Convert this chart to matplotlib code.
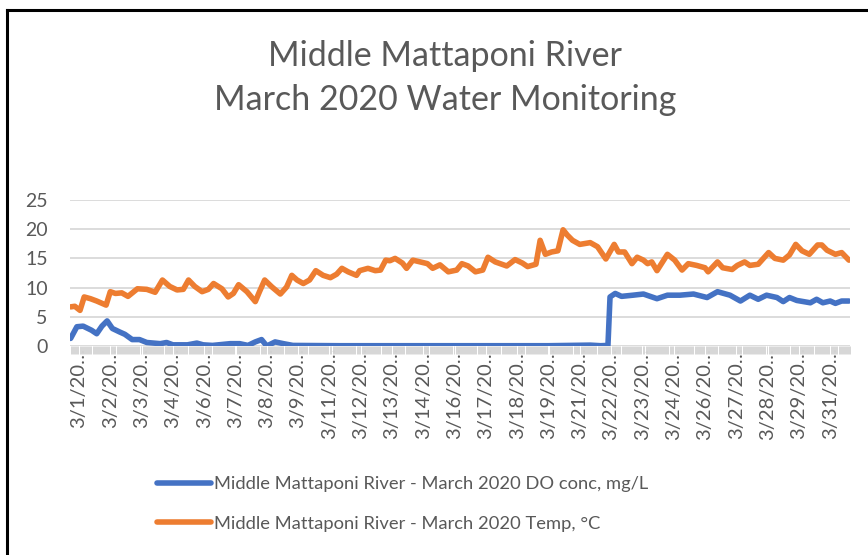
import matplotlib
matplotlib.use("Agg")
import matplotlib.pyplot as plt
from matplotlib.ticker import MultipleLocator
from matplotlib.lines import Line2D

# readings, x = hours from 3/1 00:00 (label every 30 readings like Excel did)
temp_hours = [-8, -4, 1, 5, 11, 17, 26, 30, 35, 41, 47, 56, 65, 73, 80, 87, 94, 100,
              105, 111, 118, 124, 129, 137, 143, 148, 153, 161, 169, 173, 178, 185,
              193, 199, 204, 209, 215, 221, 227, 234, 241, 247, 252, 258, 266, 269,
              277, 284, 289, 294, 298, 303, 310, 314, 320, 327, 334, 339, 346, 354,
              362, 367, 373, 380, 387, 392, 399, 410, 418, 425, 430, 438, 442, 447,
              453, 459, 464, 468, 473, 480, 490, 497, 505, 513, 517, 523, 530, 535,
              541, 545, 549, 554, 564, 571, 578, 584, 592, 600, 603, 612, 617, 626,
              631, 638, 643, 651, 661, 667, 675, 681, 687, 693, 700, 708, 712, 717,
              725, 731, 738]
temp_vals = [6.7, 6.8, 6.1, 8.4, 8.1, 7.7, 7.0, 9.3, 9.0, 9.1, 8.5, 9.8, 9.7, 9.2,
             11.3, 10.2, 9.6, 9.7, 11.3, 10.2, 9.3, 9.7, 10.7, 9.8, 8.4, 9.0, 10.5,
             9.3, 7.6, 9.3, 11.3, 10.1, 8.9, 10.1, 12.1, 11.3, 10.7, 11.3, 12.9, 12.1,
             11.7, 12.3, 13.3, 12.7, 12.1, 12.9, 13.3, 12.9, 13.0, 14.7, 14.6, 15.0,
             14.2, 13.3, 14.7, 14.4, 14.1, 13.3, 13.9, 12.7, 13.0, 14.1, 13.7, 12.7,
             13.0, 15.2, 14.4, 13.7, 14.8, 14.2, 13.6, 14.0, 18.1, 15.7, 16.1, 16.3,
             19.9, 19.0, 18.1, 17.4, 17.7, 17.0, 14.9, 17.4, 16.1, 16.1, 14.1, 15.2,
             14.7, 14.1, 14.4, 12.9, 15.7, 14.7, 13.0, 14.1, 13.8, 13.4, 12.7, 14.4,
             13.4, 13.1, 13.8, 14.4, 13.8, 14.0, 16.0, 15.0, 14.7, 15.6, 17.4, 16.3,
             15.7, 17.3, 17.3, 16.4, 15.7, 16.0, 14.7]

do_hours = [-8, -2, 4, 12, 17, 22, 27, 32, 39, 44, 51, 58, 65, 78, 84, 90, 104, 113,
            119, 128, 145, 154, 162, 169, 175, 180, 188, 196, 205, 250, 350, 450,
            490, 500, 507, 509, 514, 520, 531, 541, 554, 564, 576, 589, 602, 612,
            624, 634, 643, 651, 659, 669, 675, 681, 688, 701, 707, 713, 720, 725,
            731, 738]
do_vals = [1.3, 3.3, 3.4, 2.7, 2.1, 3.4, 4.3, 3.0, 2.4, 2.0, 1.1, 1.1, 0.6, 0.4, 0.6,
           0.2, 0.2, 0.5, 0.2, 0.1, 0.4, 0.4, 0.1, 0.7, 1.1, 0.0, 0.7, 0.4, 0.1, 0.05,
           0.05, 0.05, 0.15, 0.05, 0.1, 8.4, 9.0, 8.5, 8.7, 8.9, 8.1, 8.7, 8.7, 8.9,
           8.3, 9.3, 8.7, 7.7, 8.7, 8.0, 8.7, 8.3, 7.6, 8.3, 7.8, 7.4, 8.0, 7.4, 7.7,
           7.3, 7.7, 7.7]

tick_days = [1, 2, 3, 4, 6, 7, 8, 9, 11, 12, 13, 14, 16, 17, 18, 19, 21, 22, 23, 24,
             26, 27, 28, 29, 31]
tick_labels = ["3/%d/20\u2026" % d for d in tick_days]

do_name = "Middle Mattaponi River - March 2020 DO conc, mg/L"
temp_name = "Middle Mattaponi River - March 2020 Temp, \u00b0C"

grey = "#595959"
plt.rcParams["font.family"] = ["Lato", "DejaVu Sans"]

fig = plt.figure(figsize=(8.68, 5.55), dpi=100)
ax = fig.add_axes([70 / 868, 1 - 346 / 555, 780 / 868, 146 / 555])

ax.plot(do_hours, do_vals, color="#4472C4", lw=4, solid_joinstyle="round",
        solid_capstyle="round", label=do_name)
ax.plot(temp_hours, temp_vals, color="#ED7D31", lw=4, solid_joinstyle="round",
        solid_capstyle="round", label=temp_name)

ax.set_xlim(-8.6, 739)
ax.set_ylim(0, 25)
ax.set_yticks([0, 5, 10, 15, 20, 25])
ax.grid(axis="y", color="#d9d9d9", lw=1.3)
ax.set_axisbelow(True)
for s in ax.spines.values():
    s.set_visible(False)

ax.set_xticks([30 * i for i in range(len(tick_labels))])
ax.set_xticklabels(tick_labels, rotation=90, color=grey, fontsize=14.5)
ax.xaxis.set_minor_locator(MultipleLocator(1))
ax.tick_params(axis="x", which="major", length=0, pad=1)
ax.tick_params(axis="x", which="minor", length=6, width=0.7, color="#d6d6d6")
ax.tick_params(axis="y", length=0, labelsize=14, labelcolor=grey, pad=16)

fig.text(0.513, 1 - 56 / 555, "Middle Mattaponi River", ha="center", va="center",
         fontsize=24.5, color=grey)
fig.text(0.513, 1 - 100 / 555, "March 2020 Water Monitoring", ha="center",
         va="center", fontsize=24.5, color=grey)

fig.legend(loc="upper left", bbox_to_anchor=(157 / 868, 1 - 476 / 555),
           frameon=False, fontsize=13.2, labelcolor=grey, handlelength=2.95,
           handletextpad=0.15, labelspacing=1.3, borderpad=0, borderaxespad=0)

# chart border (only top and left visible in crop)
fig.add_artist(Line2D([7 / 868, 1], [1 - 10 / 555, 1 - 10 / 555], color="black", lw=2.2,
                      transform=fig.transFigure))
fig.add_artist(Line2D([7 / 868, 7 / 868], [0, 1 - 10 / 555], color="black", lw=2.2,
                      transform=fig.transFigure))

fig.savefig("out.png", dpi=100)
